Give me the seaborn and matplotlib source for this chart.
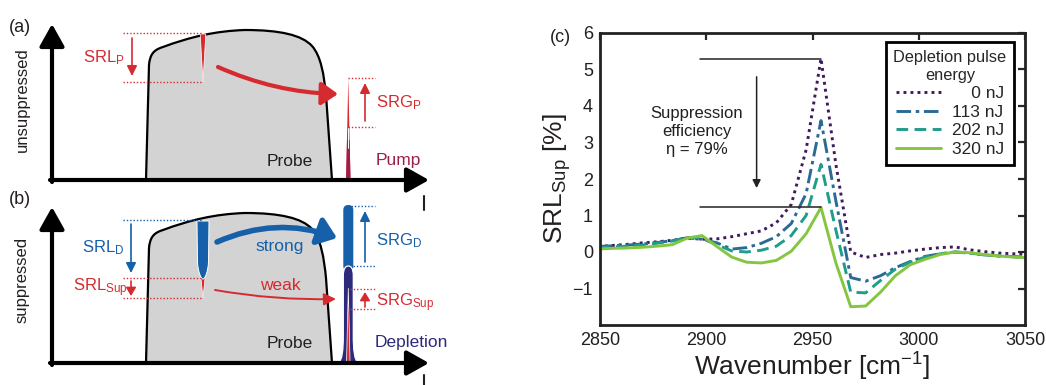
import numpy as np
import pandas as pd
import matplotlib
matplotlib.use("Agg")
import matplotlib.pyplot as plt
from matplotlib.path import Path
from matplotlib.patches import PathPatch, Polygon, FancyArrowPatch, FancyBboxPatch
import seaborn as sns

# ---- panel (c) : SRL_Sup spectra for several depletion pulse energies
wavenumber = [2849, 2856, 2863, 2870, 2877, 2884, 2891, 2898, 2905, 2912,
              2919, 2926, 2933, 2940, 2947, 2954, 2961, 2968, 2975, 2982,
              2989, 2996, 3003, 3010, 3017, 3024, 3031, 3038, 3045, 3052]
srl_0nj = [0.15, 0.18, 0.21, 0.25, 0.28, 0.32, 0.38, 0.35, 0.36, 0.42,
           0.50, 0.58, 0.80, 1.30, 2.80, 5.30, 2.40, 0.00, -0.15, -0.07,
           -0.03, 0.03, 0.08, 0.12, 0.14, 0.06, 0.01, -0.03, -0.05, -0.07]
srl_113nj = [0.15, 0.17, 0.19, 0.22, 0.26, 0.31, 0.39, 0.35, 0.25, 0.08,
             0.12, 0.24, 0.42, 0.78, 1.60, 3.60, 1.40, -0.70, -0.80, -0.65,
             -0.43, -0.26, -0.12, -0.05, 0.00, -0.03, -0.08, -0.11, -0.13, -0.15]
srl_202nj = [0.12, 0.14, 0.16, 0.19, 0.24, 0.30, 0.40, 0.37, 0.20, 0.03,
             0.00, 0.05, 0.16, 0.45, 1.00, 2.40, 0.60, -1.10, -1.12, -0.78,
             -0.47, -0.28, -0.14, -0.05, 0.00, -0.03, -0.08, -0.11, -0.13, -0.15]
srl_320nj = [0.08, 0.10, 0.11, 0.13, 0.16, 0.20, 0.38, 0.45, 0.15, -0.14,
             -0.28, -0.30, -0.23, 0.02, 0.50, 1.22, -0.30, -1.50, -1.48, -1.10,
             -0.65, -0.35, -0.20, -0.07, 0.00, -0.02, -0.07, -0.11, -0.14, -0.16]
energies = ["0 nJ", "113 nJ", "202 nJ", "320 nJ"]
legend_labels = ["\u2007\u20070 nJ", "113 nJ", "202 nJ", "320 nJ"]
line_colors = ["#3f1a5e", "#2b6a95", "#1e9c8c", "#86c540"]
line_dashes = [(1, 1.4), (5, 1.6, 1.2, 1.6), (4, 2.2), ""]

# ---- panels (a)/(b) : schematic, in figure pixels (y down)
base_y = [180, 363]
# probe outline relative to the baseline (path vertices)
probe_x = [146, 149, 150, 153, 163, 190, 215, 245, 280, 302, 312, 321, 324, 326, 332, 146]
probe_dy = [0, -115, -125, -130, -133, -143, -149, -150, -150, -145, -134, -124, -105, -85, 0, 0]
probe_codes = [Path.MOVETO, Path.LINETO] + [Path.CURVE4] * 12 + [Path.LINETO, Path.CLOSEPOLY]
spike_x = 348.3
notch_x = 203

red = "#d52b30"
blue = "#1560a9"
navy = "#2d2a7c"
maroon = "#9b1f4a"
ink = "#231f20"

sns.set_style("white")
plt.rcParams["font.family"] = ["Liberation Sans", "DejaVu Sans"]
plt.rcParams["mathtext.fontset"] = "custom"
plt.rcParams["mathtext.rm"] = "Liberation Sans"
plt.rcParams["mathtext.default"] = "regular"

fig = plt.figure(figsize=(10.46, 3.85), dpi=100)

# ================= schematic panels =================
axs = fig.add_axes([0, 0, 460 / 1046, 1])
axs.set_xlim(0, 460)
axs.set_ylim(385, 0)
axs.axis("off")


def arrow(p0, p1, color, lw=1.2, head=(0.6, 0.3), scale=10, rad=0.0, z=6):
    a = FancyArrowPatch(p0, p1, arrowstyle="-|>,head_length=%g,head_width=%g" % head,
                        mutation_scale=scale, lw=lw, color=color, shrinkA=0, shrinkB=0,
                        connectionstyle="arc3,rad=%g" % rad, zorder=z)
    axs.add_patch(a)


def dotted(x0, x1, y, color):
    axs.plot([x0, x1], [y, y], color=color, lw=1.0, ls=(0, (1, 1.4)), zorder=4)


for i, b in enumerate(base_y):
    verts = [(x, b + dy) for x, dy in zip(probe_x, probe_dy)]
    axs.add_patch(PathPatch(Path(verts, probe_codes), fc="#d3d3d3", ec="black", lw=1.6, zorder=1))
    # coordinate axes
    top = 24 if i == 0 else 207
    arrow((52, b + 2), (52, top), "black", lw=3, head=(0.75, 0.42), scale=18, z=7)
    arrow((50, b), (429, b), "black", lw=3, head=(0.75, 0.42), scale=18, z=7)
    axs.text(290, b - 19, "Probe", fontsize=12.5, color=ink, ha="center", va="center")

# ---- (a) unsuppressed
b = base_y[0]
axs.add_patch(Polygon([(notch_x - 2.8, 34), (notch_x + 2.8, 34), (notch_x, 82)],
                      fc=red, ec="white", lw=0.5, zorder=3))
axs.add_patch(Polygon([(spike_x - 2.2, b), (spike_x + 2.2, b), (spike_x, 78)], fc=red, lw=0, zorder=3))
axs.add_patch(Polygon([(spike_x - 2.2, b), (spike_x + 2.2, b), (spike_x + 1.3, 140), (spike_x - 1.3, 140)],
                      fc=maroon, lw=0, zorder=3))
axs.plot([spike_x, spike_x], [128, 148], color="white", lw=0.7, zorder=3)
dotted(123, notch_x, 33, red)
dotted(123, notch_x, 82, red)
arrow((132, 38), (132, 76), red)
axs.text(83, 58, "SRL$_{\\rm P}$", fontsize=12, color=red, va="center")
dotted(spike_x, 375, 78, red)
dotted(spike_x, 375, 127, red)
arrow((365, 121), (365, 83), red)
axs.text(376, 103, "SRG$_{\\rm P}$", fontsize=12, color=red, va="center")
arrow((218, 67), (338, 94), red, lw=3, head=(0.55, 0.38), scale=18, rad=0.1)
axs.text(398, 161, "Pump", fontsize=12.5, color=maroon, ha="center", va="center")
axs.text(22, 100, "unsuppressed", fontsize=12, color=ink, rotation=90, ha="center", va="center")
axs.text(20, 27, "(a)", fontsize=13, color=ink, ha="center", va="center")

# ---- (b) suppressed
b = base_y[1]
axs.add_patch(Polygon([(notch_x - 2.3, 276), (notch_x + 2.3, 276), (notch_x, 298)],
                      fc=red, ec="white", lw=0.5, zorder=3))
notch_verts = [(197, 221), (197.5, 262), (198, 272), (201, 279), (203, 279),
               (205, 279), (208, 272), (208.5, 262), (209, 221), (197, 221)]
notch_codes = [Path.MOVETO, Path.LINETO] + [Path.CURVE4] * 6 + [Path.LINETO, Path.CLOSEPOLY]
axs.add_patch(PathPatch(Path(notch_verts, notch_codes), fc=blue, ec="white", lw=0.7, zorder=3))
axs.add_patch(FancyBboxPatch((spike_x - 5, 205), 10, 66, boxstyle="round,pad=0,rounding_size=5",
                             fc=blue, ec="none", zorder=2))
dep_verts = [(spike_x - 10, b), (spike_x - 6, b - 3), (spike_x - 5, b - 13), (spike_x - 5, b - 28),
             (spike_x - 5, b - 87), (spike_x - 5, b - 95), (spike_x - 2.5, b - 97), (spike_x, b - 97),
             (spike_x + 2.5, b - 97), (spike_x + 5, b - 95), (spike_x + 5, b - 87),
             (spike_x + 5, b - 28), (spike_x + 5, b - 13), (spike_x + 6, b - 3), (spike_x + 10, b),
             (spike_x - 10, b)]
dep_codes = ([Path.MOVETO] + [Path.CURVE4] * 3 + [Path.LINETO] + [Path.CURVE4] * 6 + [Path.LINETO]
             + [Path.CURVE4] * 3 + [Path.CLOSEPOLY])
axs.add_patch(PathPatch(Path(dep_verts, dep_codes), fc=navy, ec="white", lw=0.9, zorder=3))
axs.add_patch(Polygon([(spike_x - 1.8, b), (spike_x + 1.8, b), (spike_x, 288)],
                      fc=red, ec="white", lw=0.5, zorder=4))
dotted(123, notch_x, 220, blue)
dotted(123, notch_x, 278, red)
dotted(123, notch_x, 298, red)
arrow((131, 224), (131, 273), blue)
arrow((131, 281), (131, 296), red, head=(0.5, 0.3))
axs.text(82, 248, "SRL$_{\\rm D}$", fontsize=12, color=blue, va="center")
axs.text(73, 288, "SRL$_{\\rm Sup}$", fontsize=12, color=red, va="center")
dotted(spike_x + 3, 375, 206, blue)
dotted(spike_x + 5, 375, 266, blue)
dotted(spike_x + 2, 375, 289, red)
dotted(spike_x + 2, 375, 309, red)
arrow((365, 262), (365, 211), blue)
arrow((365, 307), (365, 292), red, head=(0.5, 0.3))
axs.text(376, 241, "SRG$_{\\rm D}$", fontsize=12, color=blue, va="center")
axs.text(376, 303, "SRG$_{\\rm Sup}$", fontsize=12, color=red, va="center")
arrow((217, 242), (337, 238), blue, lw=4, head=(0.55, 0.42), scale=20, rad=-0.2)
axs.text(280, 247, "strong", fontsize=12.5, color=blue, ha="center", va="center")
arrow((215, 290), (336, 299), red, lw=1.4, head=(0.6, 0.3), scale=12, rad=0.05)
axs.text(280, 285, "weak", fontsize=12.5, color=red, ha="center", va="center")
axs.text(411, 342, "Depletion", fontsize=12.5, color=navy, ha="center", va="center")
axs.text(22, 280, "suppressed", fontsize=12, color=ink, rotation=90, ha="center", va="center")
axs.text(20, 200, "(b)", fontsize=13, color=ink, ha="center", va="center")
axs.plot([424, 424], [196, 210], color=ink, lw=1.5)
axs.plot([424, 424], [375, 385], color=ink, lw=1.5)

# ================= panel (c) =================
ax = fig.add_axes([600 / 1046, 60 / 385, 425 / 1046, 292 / 385])
df = pd.DataFrame({
    "wavenumber": wavenumber * 4,
    "srl": srl_0nj + srl_113nj + srl_202nj + srl_320nj,
    "energy": np.repeat(energies, len(wavenumber)),
})
sns.lineplot(data=df, x="wavenumber", y="srl", hue="energy", style="energy",
             hue_order=energies, style_order=energies,
             palette=dict(zip(energies, line_colors)), dashes=dict(zip(energies, line_dashes)),
             lw=2.1, ax=ax, legend=True)

# suppression efficiency annotation
peak_wn = wavenumber[int(np.argmax(srl_0nj))]
for level in [max(srl_0nj), max(srl_320nj)]:
    ax.plot([2897, peak_wn], [level, level], color="#222222", lw=1.1)
ax.annotate("", xy=(2923.7, 1.75), xytext=(2923.7, 4.8),
            arrowprops=dict(arrowstyle="-|>", color="#222222", lw=1.1, mutation_scale=12,
                            shrinkA=0, shrinkB=0))
ax.text(2895.5, 3.3, "Suppression\nefficiency\n\u03b7 = 79%", fontsize=12, color=ink,
        ha="center", va="center", linespacing=1.25)

handles, _ = ax.get_legend_handles_labels()
leg = ax.legend(handles[-4:], legend_labels, title="Depletion pulse\nenergy",
                loc="upper right", bbox_to_anchor=(0.975, 0.968), borderaxespad=0,
                fontsize=12.5, title_fontsize=11.8, frameon=True, fancybox=False,
                framealpha=1, edgecolor="black", handlelength=2.6, handletextpad=0.6,
                labelspacing=0.2, borderpad=0.45)
leg.get_frame().set_linewidth(2)
leg.get_title().set_multialignment("center")

ax.set_xlim(2850, 3050)
ax.set_ylim(-2, 6)
ax.set_xticks([2850, 2900, 2950, 3000, 3050])
ax.set_yticks([-1, 0, 1, 2, 3, 4, 5, 6])
ax.tick_params(direction="in", length=5, width=1.6, top=True, right=True,
               labelsize=13, labelcolor=ink, pad=5)
for sp in ax.spines.values():
    sp.set_linewidth(2)
    sp.set_color("#222222")
ax.set_xlabel("Wavenumber [cm$^{-1}$]", fontsize=19, color=ink, labelpad=1)
ax.set_ylabel("SRL$_{\\rm Sup}$ [%]", fontsize=19, color=ink, labelpad=0)
fig.text(560 / 1046, 1 - 38 / 385, "(c)", fontsize=13, color=ink, ha="center", va="center")

fig.savefig("out.png", dpi=100)
